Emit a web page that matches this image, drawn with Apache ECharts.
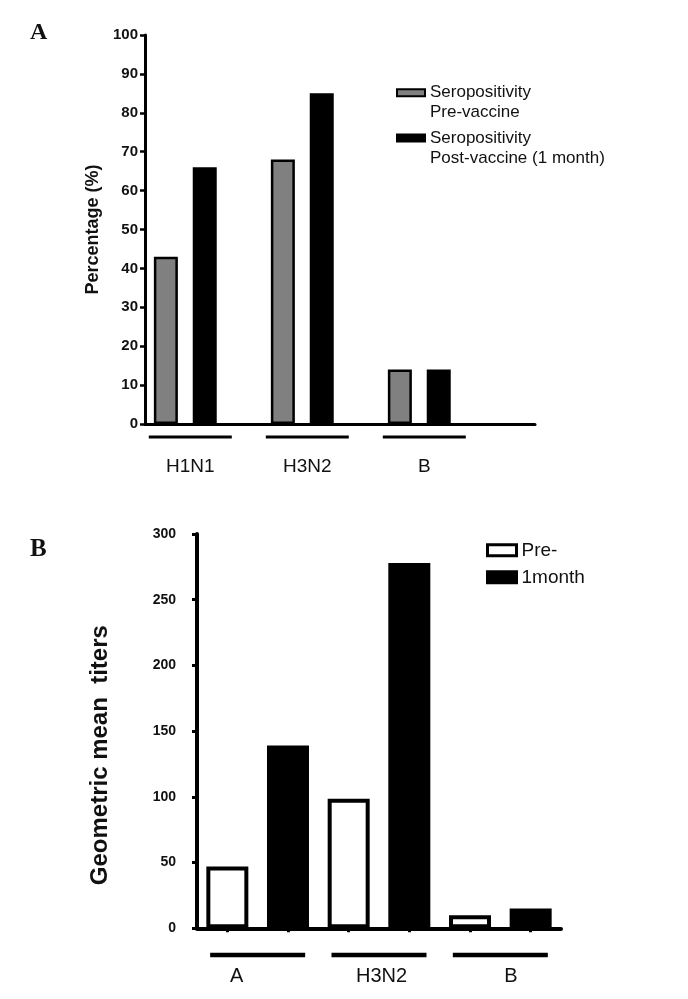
<!DOCTYPE html>
<html>
<head>
<meta charset="utf-8">
<script src="https://cdn.jsdelivr.net/npm/echarts@6/dist/echarts.min.js"></script>
<style>
  html, body { margin: 0; padding: 0; background: #fff; }
  #chart { width: 688px; height: 999px; }
</style>
</head>
<body>
<div id="chart"></div>
<script>
// panel A - seropositivity (%)
const strainsA = ['H1N1', 'H3N2', 'B'];
const preVaccineA = [43, 68, 14];
const postVaccineA = [66, 85, 14];
const yMaxA = 100, yStepA = 10;

// panel B - geometric mean titers
const strainsB = ['A', 'H3N2', 'B'];
const preB = [47, 98.5, 10];
const monthB = [139, 278, 15];
const yMaxB = 300, yStepB = 50;

const sans = 'Liberation Sans';
const ink = '#111';

// one tick under every bar in panel B
const barSlotsB = strainsB.flatMap(s => [s + ' pre', s + ' 1month']);

const chart = echarts.init(document.getElementById('chart'));

// two-line legend names: a leading blank line puts the first line level with the swatch
const legendA = {
  padding: 0, icon: 'rect', itemWidth: 28, itemHeight: 7,
  itemStyle: { borderWidth: 2 },
  formatter: name => '\n' + name,
  textStyle: { fontFamily: sans, fontSize: 17, lineHeight: 20, color: ink }
};

const option = {
  animation: false,
  backgroundColor: '#fff',
  title: [
    { text: 'A', left: 30, top: 21, padding: 0,
      textStyle: { fontFamily: 'Liberation Serif', fontWeight: 'bold', fontSize: 24, color: ink } },
    { text: 'B', left: 30, top: 537, padding: 0,
      textStyle: { fontFamily: 'Liberation Serif', fontWeight: 'bold', fontSize: 25, color: ink } }
  ],
  legend: [
    Object.assign({ data: ['Seropositivity\nPre-vaccine'], left: 396, top: 62.8 }, legendA),
    Object.assign({ data: ['Seropositivity\nPost-vaccine (1 month)'], left: 396, top: 108 }, legendA),
    { data: ['Pre-', '1month'], orient: 'vertical', left: 486, top: 539.3, padding: 0,
      itemGap: 5, icon: 'rect', itemWidth: 29, itemHeight: 11,
      itemStyle: { borderWidth: 3 },
      textStyle: { fontFamily: sans, fontSize: 19, lineHeight: 22, color: ink } }
  ],
  grid: [
    // A: axes frame
    { left: 145, top: 35, width: 390, height: 389, outerBoundsMode: 'none' },
    // A: bars
    { left: 126.8, top: 35, width: 351, height: 389, outerBoundsMode: 'none' },
    // B
    { left: 197, top: 534, width: 364, height: 394.3, outerBoundsMode: 'none' }
  ],
  xAxis: [
    { gridIndex: 0, type: 'value', min: 0, max: 1,
      axisLine: { show: true, onZero: false, lineStyle: { color: '#000', width: 3 } },
      axisTick: { show: false }, axisLabel: { show: false }, splitLine: { show: false } },
    { gridIndex: 1, type: 'category', data: strainsA,
      axisLine: { show: false }, axisTick: { show: false },
      axisLabel: {
        interval: 0, margin: 11.5, padding: [0, 0, 0, 10],
        formatter: v => '{u| }\n{t|' + v + '}',
        rich: {
          u: { width: 83, height: 3, lineHeight: 3, fontSize: 1, backgroundColor: '#000', align: 'center' },
          t: { fontFamily: sans, fontSize: 19, lineHeight: 57, color: ink, align: 'center' }
        }
      } },
    { gridIndex: 2, type: 'category', data: strainsB,
      axisLine: { show: true, onZero: false, lineStyle: { color: '#000', width: 4 } },
      axisTick: { show: false },
      axisLabel: {
        interval: 0, margin: 24.4,
        formatter: (v, i) => '{u| }\n{t' + i + '|' + v + '}',
        rich: {
          u: { width: 95, height: 4.5, lineHeight: 4.5, fontSize: 1, backgroundColor: '#000', align: 'center' },
          t0: { fontFamily: sans, fontSize: 20, lineHeight: 39, color: ink, align: 'center', padding: [0, 42, 0, 0] },
          t1: { fontFamily: sans, fontSize: 20, lineHeight: 39, color: ink, align: 'center', padding: [0, 0, 0, 5] },
          t2: { fontFamily: sans, fontSize: 20, lineHeight: 39, color: ink, align: 'center', padding: [0, 0, 0, 21] }
        }
      } },
    { gridIndex: 2, type: 'category', data: barSlotsB, position: 'bottom', offset: 0,
      axisLine: { show: false },
      axisTick: { show: true, interval: 0, alignWithLabel: true, length: 4, lineStyle: { color: '#000', width: 3 } },
      axisLabel: { show: false, interval: 0 } }
  ],
  yAxis: [
    { gridIndex: 0, type: 'value', min: 0, max: yMaxA, interval: yStepA,
      name: 'Percentage (%)', nameLocation: 'middle', nameRotate: 90, nameGap: 43, nameMoveOverlap: false,
      nameTextStyle: { fontFamily: sans, fontSize: 18, fontWeight: 'bold', color: ink },
      axisLine: { show: true, lineStyle: { color: '#000', width: 3 } },
      axisTick: { show: true, length: 5, lineStyle: { color: '#000', width: 2.5 } },
      axisLabel: { margin: 7, fontFamily: sans, fontSize: 15, fontWeight: 'bold', color: ink },
      splitLine: { show: false } },
    { gridIndex: 1, type: 'value', min: 0, max: yMaxA, show: false },
    { gridIndex: 2, type: 'value', min: 0, max: yMaxB, interval: yStepB,
      name: 'Geometric mean  titers', nameLocation: 'middle', nameRotate: 90, nameGap: 85, nameMoveOverlap: false,
      nameTextStyle: { fontFamily: sans, fontSize: 24, fontWeight: 'bold', color: ink, padding: [0, 48, 0, 0] },
      axisLine: { show: true, lineStyle: { color: '#000', width: 4 } },
      axisTick: { show: true, length: 5, lineStyle: { color: '#000', width: 3 } },
      axisLabel: { margin: 21, fontFamily: sans, fontSize: 14, fontWeight: 'bold', color: ink },
      splitLine: { show: false } }
  ],
  series: [
    { name: 'Seropositivity\nPre-vaccine', type: 'bar', xAxisIndex: 1, yAxisIndex: 1,
      data: preVaccineA, barWidth: 24, barGap: '62%',
      itemStyle: { color: '#808080', borderColor: '#000', borderWidth: 2.5 } },
    { name: 'Seropositivity\nPost-vaccine (1 month)', type: 'bar', xAxisIndex: 1, yAxisIndex: 1,
      data: postVaccineA, barWidth: 24, barGap: '62%',
      itemStyle: { color: '#000', borderColor: '#000', borderWidth: 4 } },
    { name: 'Pre-', type: 'bar', xAxisIndex: 2, yAxisIndex: 2,
      data: preB, barWidth: 42, barGap: '44.4%',
      itemStyle: { color: '#fff', borderColor: '#000', borderWidth: 4 } },
    { name: '1month', type: 'bar', xAxisIndex: 2, yAxisIndex: 2,
      data: monthB, barWidth: 42, barGap: '44.4%',
      itemStyle: { color: '#000', borderColor: '#000', borderWidth: 2 } }
  ]
};

chart.setOption(option);
window.addEventListener('resize', () => chart.resize());
</script>
</body>
</html>
